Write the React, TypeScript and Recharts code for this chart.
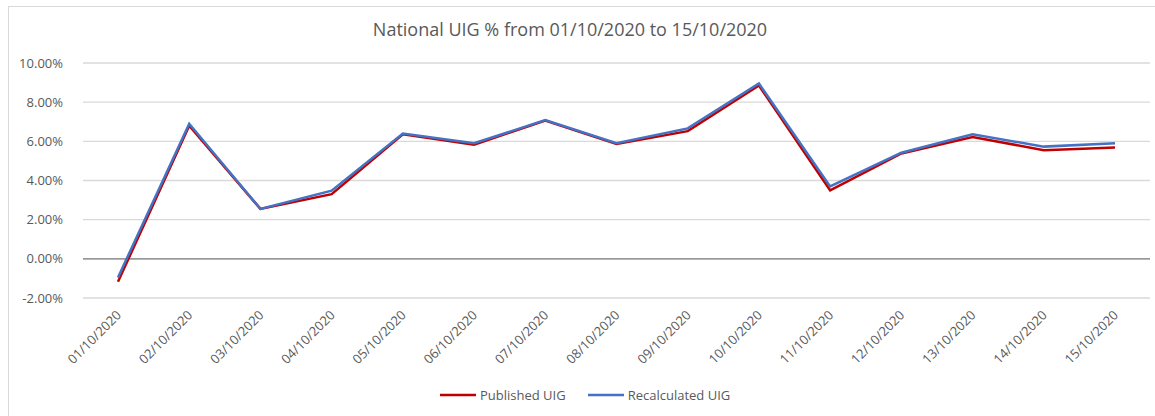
import React from 'react';
import {
  LineChart,
  Line,
  XAxis,
  YAxis,
  CartesianGrid,
  ReferenceLine,
} from 'recharts';

// values (percent)
const dates = [
  '01/10/2020', '02/10/2020', '03/10/2020', '04/10/2020', '05/10/2020',
  '06/10/2020', '07/10/2020', '08/10/2020', '09/10/2020', '10/10/2020',
  '11/10/2020', '12/10/2020', '13/10/2020', '14/10/2020', '15/10/2020',
];
const published = [-1.17, 6.8, 2.55, 3.3, 6.36, 5.83, 7.06, 5.86, 6.52, 8.85, 3.5, 5.38, 6.22, 5.55, 5.68];
const recalculated = [-0.95, 6.9, 2.55, 3.48, 6.4, 5.9, 7.08, 5.9, 6.66, 8.95, 3.7, 5.42, 6.36, 5.73, 5.9];
const yTicks = [-2, 0, 2, 4, 6, 8, 10];

const data = dates.map((d, i) => ({
  date: d,
  published: published[i],
  recalculated: recalculated[i],
}));

const font = '"Open Sans", "Liberation Sans", sans-serif';

const DateTick = ({ x, y, payload }: any) => (
  <text
    x={x + 4}
    y={y + 10}
    transform={`rotate(-45, ${x + 4}, ${y + 10})`}
    textAnchor="end"
    fontSize={13}
    fill="#595959"
    fontFamily={font}
  >
    {payload.value}
  </text>
);

const LegendItem = ({ color, label, gap }: { color: string; label: string; gap: number }) => (
  <>
    <svg width={36} height={4} style={{ marginRight: 4 }}>
      <line x1={0} y1={2} x2={36} y2={2} stroke={color} strokeWidth={2.5} />
    </svg>
    <span style={{ marginRight: gap }}>{label}</span>
  </>
);

export default function App() {
  return (
    <div style={{ position: 'absolute', left: 0, top: 0, width: 1155, height: 416, background: '#fff', overflow: 'hidden' }}>
      <div
        style={{
          position: 'absolute',
          left: 8,
          top: 6,
          width: 1160,
          height: 420,
          border: '1px solid #d9d9d9',
          boxSizing: 'border-box',
        }}
      />
      <div
        style={{
          position: 'absolute',
          left: 0,
          top: 17,
          width: 1140,
          textAlign: 'center',
          fontFamily: font,
          fontSize: 18,
          color: '#595959',
        }}
      >
        National UIG % from 01/10/2020 to 15/10/2020
      </div>
      <div style={{ position: 'absolute', left: 0, top: 0 }}>
        <LineChart
          width={1155}
          height={416}
          data={data}
          margin={{ top: 63, right: 5, left: 0, bottom: 117 }}
        >
          <CartesianGrid vertical={false} stroke="#d9d9d9" strokeWidth={1.3} />
          <XAxis
            dataKey="date"
            axisLine={false}
            tickLine={false}
            interval={0}
            tick={<DateTick />}
            height={1}
            padding={{ left: 35, right: 35 }}
          />
          <YAxis
            domain={[-2, 10]}
            ticks={yTicks}
            axisLine={false}
            tickLine={false}
            width={83}
            tickFormatter={(v: number) => `${v.toFixed(2)}%`}
            tick={{ fontSize: 13, fill: '#595959', fontFamily: font }}
            tickMargin={14}
          />
          <ReferenceLine y={0} stroke="#7f7f7f" strokeWidth={1.3} />
          <Line
            type="linear"
            dataKey="published"
            name="Published UIG"
            stroke="#C00000"
            strokeWidth={2.5}
            dot={false}
            isAnimationActive={false}
          />
          <Line
            type="linear"
            dataKey="recalculated"
            name="Recalculated UIG"
            stroke="#4472C4"
            strokeWidth={2.5}
            dot={false}
            isAnimationActive={false}
          />
        </LineChart>
      </div>
      <div
        style={{
          position: 'absolute',
          left: 440,
          top: 386,
          display: 'flex',
          alignItems: 'center',
          fontFamily: font,
          fontSize: 13,
          color: '#595959',
        }}
      >
        <LegendItem color="#C00000" label="Published UIG" gap={22} />
        <LegendItem color="#4472C4" label="Recalculated UIG" gap={0} />
      </div>
    </div>
  );
}
